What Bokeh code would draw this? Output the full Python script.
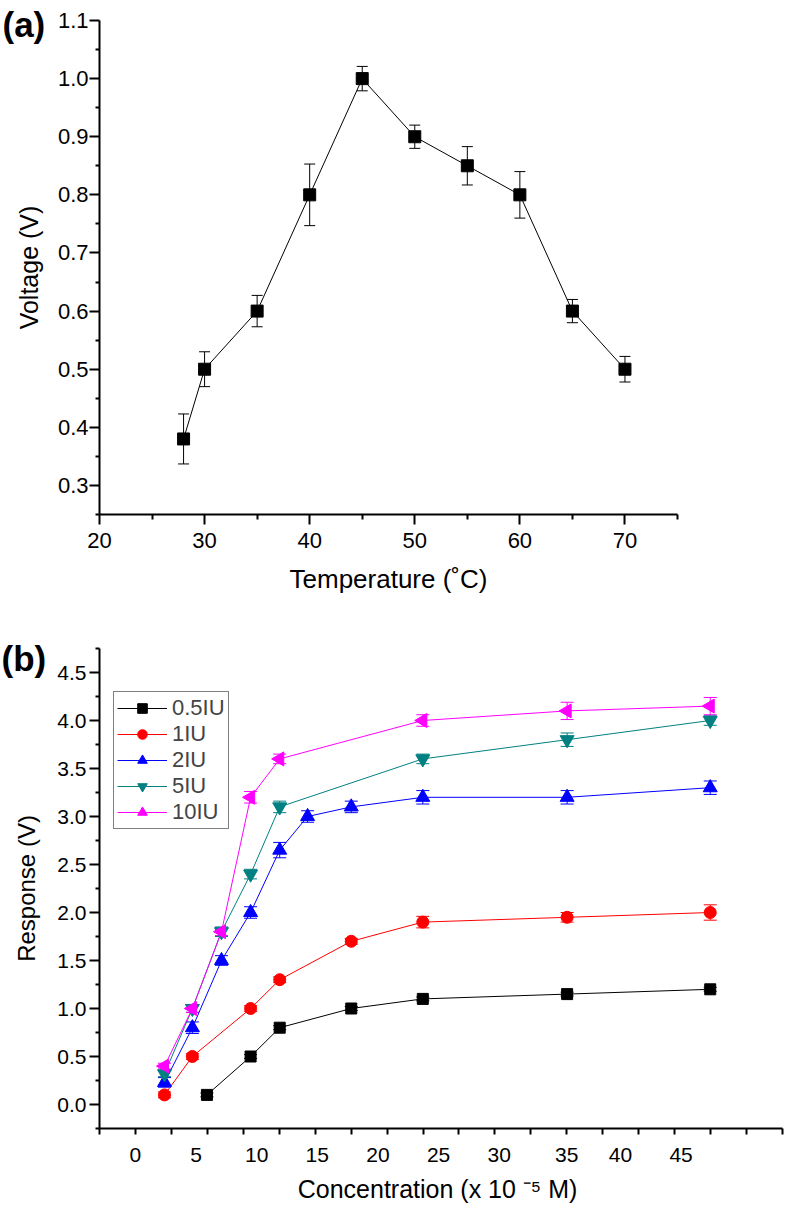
import math
from bokeh.plotting import figure
from bokeh.models import (ColumnDataSource, Whisker, TeeHead, FixedTicker,
                          PrintfTickFormatter, Range1d, Legend, LegendItem)
from bokeh.layouts import column
from bokeh.embed import file_html
from bokeh.resources import INLINE

FONT = "Liberation Sans"

# ---------------- data: panel (a) ----------------
temperature = [28, 30, 35, 40, 45, 50, 55, 60, 65, 70]
voltage = [0.38, 0.50, 0.60, 0.80, 1.00, 0.90, 0.85, 0.80, 0.60, 0.50]
voltage_err = [0.043, 0.030, 0.027, 0.053, 0.021, 0.020, 0.033, 0.040, 0.020, 0.022]

a_x_major = [20, 30, 40, 50, 60, 70]
a_x_minor = [25, 35, 45, 55, 65, 75]
a_y_major = [0.3, 0.4, 0.5, 0.6, 0.7, 0.8, 0.9, 1.0, 1.1]
a_y_minor = [0.25, 0.35, 0.45, 0.55, 0.65, 0.75, 0.85, 0.95, 1.05]

# ---------------- data: panel (b) ----------------
series_names = ["0.5IU", "1IU", "2IU", "5IU", "10IU"]
conc_05 = [5.9, 9.5, 11.9, 17.8, 23.7, 35.6, 47.4]
resp_05 = [0.10, 0.50, 0.80, 1.00, 1.10, 1.15, 1.20]
err_05 = [0.02, 0.02, 0.02, 0.02, 0.02, 0.02, 0.02]

conc_1 = [2.4, 4.7, 9.5, 11.9, 17.8, 23.7, 35.6, 47.4]
resp_1 = [0.10, 0.50, 1.00, 1.30, 1.70, 1.90, 1.95, 2.00]
err_1 = [0.03, 0.03, 0.03, 0.03, 0.03, 0.06, 0.05, 0.08]

conc_2 = [2.4, 4.7, 7.1, 9.5, 11.9, 14.2, 17.8, 23.7, 35.6, 47.4]
resp_2 = [0.23, 0.80, 1.50, 2.00, 2.65, 3.00, 3.10, 3.20, 3.20, 3.30]
err_2 = [0.05, 0.06, 0.05, 0.06, 0.08, 0.06, 0.06, 0.07, 0.07, 0.07]

conc_5 = [2.4, 4.7, 7.1, 9.5, 11.9, 23.7, 35.6, 47.4]
resp_5 = [0.32, 1.00, 1.80, 2.40, 3.10, 3.60, 3.80, 4.00]
err_5 = [0.03, 0.04, 0.05, 0.05, 0.06, 0.05, 0.07, 0.05]

conc_10 = [2.4, 4.7, 7.1, 9.5, 11.9, 23.7, 35.6, 47.4]
resp_10 = [0.40, 1.00, 1.80, 3.20, 3.60, 4.00, 4.10, 4.15]
err_10 = [0.03, 0.04, 0.04, 0.06, 0.05, 0.06, 0.09, 0.09]

b_x_label_text = ["0", "5", "10", "15", "20", "25", "30", "35", "40", "45"]
b_x_label_pos = [0, 5, 10, 15, 20, 25, 30, 35.57, 40, 45]
b_x_tickmarks = [-2.96, 0.0, 2.96, 5.93, 8.89, 11.86, 14.82, 17.79, 20.75, 23.72,
                 26.68, 29.64, 32.61, 35.57, 38.54, 41.50, 44.47, 47.43, 50.39, 53.36]
b_y_major = [0.0, 0.5, 1.0, 1.5, 2.0, 2.5, 3.0, 3.5, 4.0, 4.5]
b_y_minor = [-0.25, 0.25, 0.75, 1.25, 1.75, 2.25, 2.75, 3.25, 3.75, 4.25, 4.75]


def style_axis(ax, label_size, tick_size):
    ax.axis_line_width = 2
    ax.axis_line_color = "black"
    ax.major_tick_line_width = 2
    ax.minor_tick_line_width = 2
    ax.major_tick_line_color = "black"
    ax.minor_tick_line_color = "black"
    ax.major_tick_in = 0
    ax.minor_tick_in = 0
    ax.major_label_text_font = FONT
    ax.major_label_text_font_size = tick_size
    ax.major_label_text_color = "black"
    ax.axis_label_text_font = FONT
    ax.axis_label_text_font_size = label_size
    ax.axis_label_text_font_style = "normal"
    ax.axis_label_text_color = "black"


def style_panel_title(p, text, standoff, offset):
    t = p.title
    t.text = text
    t.text_font = FONT
    t.text_font_size = "35px"
    t.text_font_style = "bold"
    t.text_color = "black"
    t.align = "left"
    t.vertical_align = "bottom"
    t.offset = offset
    t.standoff = standoff


# ---------------- panel (a) ----------------
pa = figure(frame_width=578, frame_height=494,
            min_border_left=99, min_border_right=108,
            min_border_top=20, min_border_bottom=90,
            x_range=Range1d(20, 75), y_range=Range1d(0.25, 1.1),
            output_backend="svg", toolbar_location=None)
pa.outline_line_color = None
pa.grid.visible = False
pa.background_fill_color = "white"
style_panel_title(pa, "(a)", -46, -97)

pa.line(temperature, voltage, line_color="black", line_width=1)
src_a = ColumnDataSource(dict(
    x=temperature,
    upper=[v + e for v, e in zip(voltage, voltage_err)],
    lower=[v - e for v, e in zip(voltage, voltage_err)]))
pa.add_layout(Whisker(source=src_a, base="x", upper="upper", lower="lower",
                      line_color="black", line_width=1,
                      upper_head=TeeHead(size=11, line_color="black", line_width=1),
                      lower_head=TeeHead(size=11, line_color="black", line_width=1)))
pa.scatter(temperature, voltage, marker="square", size=12,
           fill_color="black", line_color="black")

xa = pa.xaxis[0]
xa.ticker = FixedTicker(ticks=a_x_major, minor_ticks=a_x_minor)
xa.axis_label = "Temperature (˚C)"
style_axis(xa, "26px", "22px")
xa.major_tick_out = 10
xa.minor_tick_out = 5
xa.major_label_standoff = 8
xa.axis_label_standoff = 13

ya = pa.yaxis[0]
ya.ticker = FixedTicker(ticks=a_y_major, minor_ticks=a_y_minor)
ya.formatter = PrintfTickFormatter(format="%.1f")
ya.axis_label = "Voltage (V)"
style_axis(ya, "25px", "22px")
ya.major_tick_out = 10
ya.minor_tick_out = 4
ya.major_label_standoff = 1
ya.axis_label_standoff = 12

# ---------------- panel (b) ----------------
pb = figure(frame_width=683, frame_height=480,
            min_border_left=99, min_border_right=3,
            min_border_top=44, min_border_bottom=78,
            x_range=Range1d(-2.96, 53.36), y_range=Range1d(-0.25, 4.75),
            output_backend="svg", toolbar_location=None)
pb.outline_line_color = None
pb.grid.visible = False
pb.background_fill_color = "white"
style_panel_title(pb, "(b)", -58, -98)

series = [
    (conc_05, resp_05, err_05, "black", "square", 0.0, 11),
    (conc_1, resp_1, err_1, "#ff0000", "circle", 0.0, 12),
    (conc_2, resp_2, err_2, "#0000ff", "triangle", 0.0, 14),
    (conc_5, resp_5, err_5, "#008080", "inverted_triangle", 0.0, 14),
    (conc_10, resp_10, err_10, "#ff00ff", "triangle", math.pi / 2, 14),
]

items = []
for name, (xs, ys, es, col, mk, ang, sz) in zip(series_names, series):
    lr = pb.line(xs, ys, line_color=col, line_width=1)
    src = ColumnDataSource(dict(x=xs, y=ys,
                                upper=[v + e for v, e in zip(ys, es)],
                                lower=[v - e for v, e in zip(ys, es)],
                                angle=[ang] * len(xs)))
    pb.add_layout(Whisker(source=src, base="x", upper="upper", lower="lower",
                          line_color=col, line_width=1,
                          upper_head=TeeHead(size=13, line_color=col, line_width=1),
                          lower_head=TeeHead(size=13, line_color=col, line_width=1)))
    sr = pb.scatter("x", "y", source=src, marker=mk, angle="angle", size=sz,
                    fill_color=col, line_color=col)
    items.append(LegendItem(label=name, renderers=[lr, sr]))

legend = Legend(items=items, location=(14, 299),
                border_line_color="black", border_line_width=1,
                background_fill_color="white", background_fill_alpha=1.0,
                padding=3, spacing=0, margin=0,
                glyph_width=50, glyph_height=24, label_height=24,
                label_standoff=5, label_text_font=FONT,
                label_text_font_size="22px")
pb.add_layout(legend)

xb = pb.xaxis[0]
xb.ticker = FixedTicker(ticks=b_x_label_pos, minor_ticks=b_x_tickmarks)
xb.major_label_overrides = {pos: txt for pos, txt in zip(b_x_label_pos, b_x_label_text)}
xb.axis_label = "Concentration (x 10  ⁻⁵ M)"
style_axis(xb, "25px", "21px")
xb.major_tick_out = 0
xb.minor_tick_out = 6
xb.major_label_standoff = 13
xb.axis_label_standoff = 10

yb = pb.yaxis[0]
yb.ticker = FixedTicker(ticks=b_y_major, minor_ticks=b_y_minor)
yb.formatter = PrintfTickFormatter(format="%.1f")
yb.axis_label = "Response (V)"
style_axis(yb, "24px", "21px")
yb.major_tick_out = 10
yb.minor_tick_out = 4
yb.major_label_standoff = 3
yb.axis_label_standoff = 14

layout = column(pa, pb, spacing=0)
open("out.html", "w").write(file_html(layout, INLINE))
